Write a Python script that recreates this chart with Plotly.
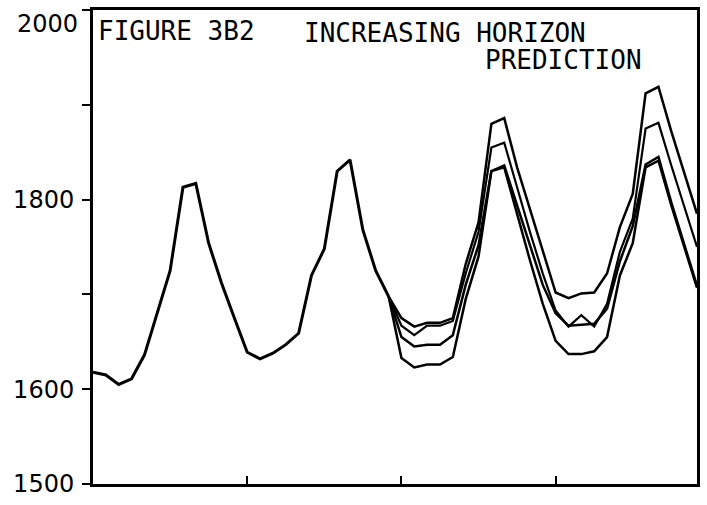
import plotly.graph_objects as go

# months 0..47 (4 seasonal cycles)
months_common = list(range(0, 24))
common = [1618, 1615, 1605, 1611, 1636, 1681, 1725, 1813, 1817, 1754, 1712, 1675,
          1639, 1632, 1638, 1647, 1659, 1720, 1748, 1830, 1842, 1768, 1725, 1698]

months_fc = list(range(23, 48))
fc_a = [1675, 1666, 1670, 1670, 1675, 1732, 1776, 1880, 1886, 1834, 1790, 1745,
        1702, 1696, 1701, 1702, 1722, 1771, 1806, 1912, 1919, 1872, 1828, 1785]
fc_b = [1667, 1657, 1667, 1667, 1672, 1722, 1766, 1855, 1860, 1813, 1766, 1722,
        1683, 1666, 1678, 1666, 1690, 1745, 1780, 1875, 1881, 1836, 1793, 1750]
fc_c = [1655, 1645, 1647, 1647, 1657, 1710, 1752, 1830, 1836, 1794, 1753, 1710,
        1680, 1667, 1668, 1669, 1685, 1735, 1772, 1837, 1845, 1797, 1753, 1709]
fc_d = [1633, 1623, 1626, 1626, 1634, 1695, 1740, 1830, 1834, 1785, 1736, 1690,
        1651, 1637, 1637, 1640, 1655, 1720, 1754, 1834, 1841, 1794, 1750, 1707]

y_ticks = [1500, 1600, 1700, 1800, 1900, 2000]
y_labels = ["1500", "1600", "", "1800", "", ""]
top_label = "2000"
x_ticks = [12, 24, 36]

W, H = 707, 505
L, R, T, B = 93, 7, 10, 16
PW = W - L - R
PH = H - T - B

fig = go.Figure()
origin = common[-1]
for vals, w in [(fc_a, 2.5), (fc_b, 2.2), (fc_c, 2.5), (fc_d, 2.5)]:
    fig.add_trace(go.Scatter(x=months_fc, y=[origin] + vals, mode="lines",
                             line=dict(color="black", width=w), showlegend=False,
                             hoverinfo="skip"))
fig.add_trace(go.Scatter(x=months_common, y=common, mode="lines",
                         line=dict(color="black", width=3), showlegend=False,
                         hoverinfo="skip"))


def px_x(p):
    return (p - L) / PW


def px_y(p):
    return 1 - (p - T) / PH


tfont = dict(family="DejaVu Sans Mono", size=26, color="black")
fig.add_annotation(text="FIGURE 3B2", x=px_x(96), y=px_y(14), xref="paper", yref="paper",
                   xanchor="left", yanchor="top", showarrow=False, font=tfont)
fig.add_annotation(text="INCREASING HORIZON", x=px_x(303), y=px_y(16), xref="paper", yref="paper",
                   xanchor="left", yanchor="top", showarrow=False, font=tfont)
fig.add_annotation(text="PREDICTION", x=px_x(485), y=px_y(43), xref="paper", yref="paper",
                   xanchor="left", yanchor="top", showarrow=False, font=tfont)
fig.add_annotation(text=top_label, x=px_x(80), y=px_y(24), xref="paper", yref="paper",
                   xanchor="right", yanchor="middle", showarrow=False,
                   font=dict(family="DejaVu Sans", size=24, color="black"))

fig.update_layout(
    width=W, height=H,
    margin=dict(l=L, r=R, t=T, b=B),
    paper_bgcolor="white", plot_bgcolor="white",
    xaxis=dict(range=[0, 47], tickvals=x_ticks, ticks="inside", ticklen=8, tickwidth=2,
               tickcolor="black", showticklabels=False, showline=True, linewidth=2.5,
               linecolor="black", mirror=True, showgrid=False, zeroline=False),
    yaxis=dict(range=[1500, 2000], tickvals=y_ticks, ticktext=y_labels, ticks="outside",
               ticklen=8, tickwidth=2, tickcolor="black", showline=True, linewidth=3,
               linecolor="black", mirror=True, showgrid=False, zeroline=False,
               ticklabelstandoff=3, ticklabeloverflow="allow",
               tickfont=dict(family="DejaVu Sans", size=24, color="black")),
)

fig.write_html("out.html")
